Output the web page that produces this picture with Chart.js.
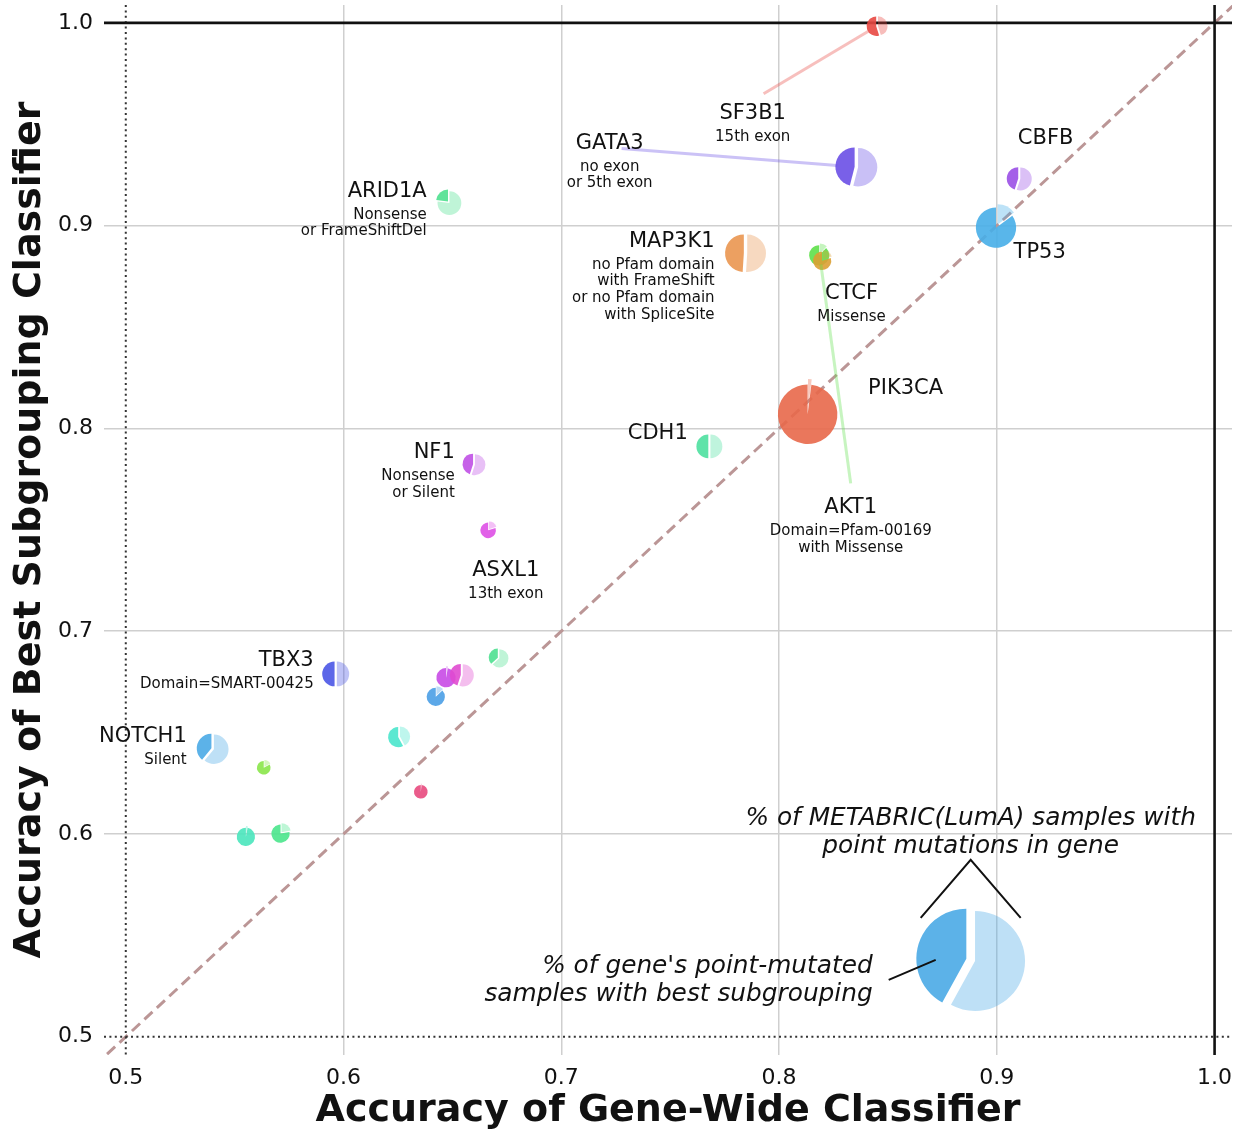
<!DOCTYPE html>
<html lang="en">

<head>
  <meta charset="UTF-8">
  <meta name="viewport" content="width=device-width, initial-scale=1.0">
  <script src="https://cdn.jsdelivr.net/npm/chart.js"></script>
  <title>Gene-wide vs best subgrouping classifier</title>
  <style>
    html, body { margin: 0; padding: 0; background: #fff; }
  </style>
</head>

<body>
  <canvas id="grafico" width="1240" height="1130"></canvas>
  <script>
    // dados
    const genes = ['SF3B1', 'GATA3', 'CBFB', 'TP53', 'ARID1A', 'MAP3K1', 'AKT1', 'CTCF', 'PIK3CA', 'CDH1',
      'NF1', 'ASXL1', 'TBX3', 'NOTCH1', 'g15', 'g16', 'g17', 'g18', 'g19', 'g20', 'g21', 'g22', 'g23'];
    const geneWideAcc = [0.845, 0.8355, 0.9103, 0.900, 0.6483, 0.7846, 0.8186, 0.8200, 0.8132, 0.768,
      0.6599, 0.6666, 0.5964, 0.5399, 0.6712, 0.6471, 0.6543, 0.6425, 0.6255, 0.5635, 0.6355, 0.5552, 0.5713];
    const subgroupAcc = [0.9984, 0.9289, 0.9231, 0.8998, 0.9115, 0.8864, 0.8858, 0.8830, 0.8083, 0.7911,
      0.7822, 0.7500, 0.6789, 0.6420, 0.6868, 0.6775, 0.6783, 0.6680, 0.6479, 0.6329, 0.6211, 0.5990, 0.6005];
    // % de amostras METABRIC(LumA) com mutacao pontual no gene
    const mutatedPct = [4.8, 19.1, 6.8, 21.0, 7.3, 18.2, 5.3, 4.3, 45.8, 7.3,
      5.7, 3.1, 7.9, 11.1, 4.3, 4.8, 6.3, 4.3, 5.3, 2.4, 2.4, 4.3, 4.3];
    // fracao das amostras mutadas com o melhor subgrupo
    const bestSubFrac = [0.55, 0.46, 0.45, 0.85, 0.23, 0.49, 0.88, 0.80, 0.98, 0.50,
      0.45, 0.80, 0.50, 0.39, 0.37, 0.97, 0.45, 0.87, 0.58, 0.83, 0.98, 0.97, 0.78];
    const geneColors = ['#e84842', '#6a4fe6', '#9a4fe6', '#47aee8', '#4ee08f', '#ea9650', '#5ee04a', '#dba034',
      '#e8684a', '#4ee0a0', '#c050e6', '#de50e6', '#4a55e6', '#4aaae6', '#4ee090', '#c84ae6', '#e04ad0',
      '#4a9ee6', '#4ae6cc', '#8ae64a', '#e84a7e', '#4ae6bc', '#4ae68c'];
    const xTicks = [0.5, 0.6, 0.7, 0.8, 0.9, 1.0];
    const yTicks = [0.5, 0.6, 0.7, 0.8, 0.9, 1.0];

    // rotulos dos genes (posicao em coordenadas dos dados)
    const notes = [
      { i: 0, x: 0.7879, y: 0.9562, align: 'center', sub: ['15th exon'], from: [0.7929, 0.965] },
      { i: 1, x: 0.7222, y: 0.9414, align: 'center', sub: ['no exon', 'or 5th exon'], from: [0.7277, 0.938] },
      { i: 2, x: 0.9224, y: 0.9438, align: 'center', sub: [] },
      { i: 3, x: 0.9197, y: 0.8877, align: 'center', sub: [] },
      { i: 4, x: 0.6382, y: 0.9177, align: 'right', sub: ['Nonsense', 'or FrameShiftDel'] },
      { i: 5, x: 0.7704, y: 0.8931, align: 'right', sub: ['no Pfam domain', 'with FrameShift', 'or no Pfam domain', 'with SpliceSite'] },
      { i: 6, x: 0.8329, y: 0.7616, align: 'center', sub: ['Domain=Pfam-00169', 'with Missense'], from: [0.8329, 0.7729] },
      { i: 7, x: 0.8333, y: 0.8670, align: 'center', sub: ['Missense'] },
      { i: 8, x: 0.8581, y: 0.8202, align: 'center', sub: [] },
      { i: 9, x: 0.7443, y: 0.7980, align: 'center', sub: [] },
      { i: 10, x: 0.6511, y: 0.7887, align: 'right', sub: ['Nonsense', 'or Silent'] },
      { i: 11, x: 0.6745, y: 0.7305, align: 'center', sub: ['13th exon'] },
      { i: 12, x: 0.5863, y: 0.6862, align: 'right', sub: ['Domain=SMART-00425'] },
      { i: 13, x: 0.5280, y: 0.6488, align: 'right', sub: ['Silent'] }
    ];

    // legenda do tamanho / fatia
    const keyPie = { x: 0.888, y: 0.5379, frac: 0.42, color: '#4aaae6', r: 50 };

    const FONT = "'DejaVu Sans', 'Liberation Sans', sans-serif";
    const sizeK = 4.4;

    const rgba = (hex, a) => {
      const n = parseInt(hex.slice(1), 16);
      return `rgba(${(n >> 16) & 255},${(n >> 8) & 255},${n & 255},${a})`;
    };

    function drawPie(ctx, cx, cy, r, frac, color) {
      const top = -Math.PI / 2;
      const e = 0.09 * r;
      const lm = top + Math.PI * (1 - frac);
      const dm = top - Math.PI * frac;
      // fatia clara (resto)
      let px = cx + e * Math.cos(lm), py = cy + e * Math.sin(lm);
      ctx.fillStyle = rgba(color, 0.36);
      ctx.beginPath();
      ctx.moveTo(px, py);
      ctx.arc(px, py, r, top, top + 2 * Math.PI * (1 - frac), false);
      ctx.closePath();
      ctx.fill();
      // fatia escura (melhor subgrupo), sentido anti-horario a partir do topo
      px = cx + e * Math.cos(dm); py = cy + e * Math.sin(dm);
      ctx.fillStyle = rgba(color, 0.9);
      ctx.beginPath();
      ctx.moveTo(px, py);
      ctx.arc(px, py, r, top - 2 * Math.PI * frac, top, false);
      ctx.closePath();
      ctx.fill();
    }

    const refLines = {
      id: 'refLines',
      beforeDatasetsDraw(chart) {
        const { ctx, chartArea: a, scales: { x, y } } = chart;
        ctx.save();
        ctx.beginPath();
        ctx.rect(a.left, a.top, a.right - a.left, a.bottom - a.top);
        ctx.clip();
        // diagonal y = x
        ctx.strokeStyle = '#bb9696';
        ctx.lineWidth = 3;
        ctx.setLineDash([11, 6]);
        ctx.beginPath();
        ctx.moveTo(x.getPixelForValue(0.4), y.getPixelForValue(0.4));
        ctx.lineTo(x.getPixelForValue(1.1), y.getPixelForValue(1.1));
        ctx.stroke();
        // linhas pontilhadas em 0.5
        ctx.strokeStyle = '#333';
        ctx.lineWidth = 2;
        ctx.setLineDash([2, 3.4]);
        ctx.beginPath();
        ctx.moveTo(x.getPixelForValue(0.5), a.top);
        ctx.lineTo(x.getPixelForValue(0.5), a.bottom);
        ctx.moveTo(a.left, y.getPixelForValue(0.5));
        ctx.lineTo(a.right, y.getPixelForValue(0.5));
        ctx.stroke();
        // linhas solidas em 1.0
        ctx.setLineDash([]);
        ctx.strokeStyle = '#111';
        ctx.lineWidth = 2.6;
        ctx.beginPath();
        ctx.moveTo(x.getPixelForValue(1.0), a.top);
        ctx.lineTo(x.getPixelForValue(1.0), a.bottom);
        ctx.moveTo(a.left, y.getPixelForValue(1.0));
        ctx.lineTo(a.right, y.getPixelForValue(1.0));
        ctx.stroke();
        ctx.restore();
      }
    };

    const pies = {
      id: 'pies',
      afterDatasetsDraw(chart) {
        const { ctx, scales: { x, y } } = chart;
        const meta = chart.getDatasetMeta(0);
        ctx.save();
        meta.data.forEach((pt, i) => {
          drawPie(ctx, pt.x, pt.y, sizeK * Math.sqrt(mutatedPct[i]), bestSubFrac[i], geneColors[i]);
        });

        // linhas ligando rotulo ao ponto
        notes.forEach(n => {
          if (!n.from) return;
          const pt = meta.data[n.i];
          const r = sizeK * Math.sqrt(mutatedPct[n.i]);
          const sx = x.getPixelForValue(n.from[0]), sy = y.getPixelForValue(n.from[1]);
          const d = Math.hypot(pt.x - sx, pt.y - sy);
          const ex = pt.x - (pt.x - sx) * r / d, ey = pt.y - (pt.y - sy) * r / d;
          ctx.strokeStyle = rgba(geneColors[n.i], 0.35);
          ctx.lineWidth = 3;
          ctx.beginPath();
          ctx.moveTo(sx, sy);
          ctx.lineTo(ex, ey);
          ctx.stroke();
        });

        // textos
        ctx.fillStyle = '#111';
        ctx.textBaseline = 'middle';
        notes.forEach(n => {
          const px = x.getPixelForValue(n.x), py = y.getPixelForValue(n.y) + 1.5;
          ctx.textAlign = n.align;
          ctx.font = `21px ${FONT}`;
          ctx.fillText(genes[n.i], px, py);
          ctx.font = `15px ${FONT}`;
          n.sub.forEach((s, k) => ctx.fillText(s, px, py + 23.5 + k * 16.7));
        });

        // legenda
        const kx = x.getPixelForValue(keyPie.x), ky = y.getPixelForValue(keyPie.y);
        drawPie(ctx, kx, ky, keyPie.r, keyPie.frac, keyPie.color);
        ctx.strokeStyle = '#111';
        ctx.lineWidth = 2;
        ctx.beginPath();
        ctx.moveTo(kx - 50, ky - 42);
        ctx.lineTo(kx, ky - 100);
        ctx.lineTo(kx + 50, ky - 42);
        ctx.moveTo(kx - 82, ky + 20);
        ctx.lineTo(kx - 35, ky);
        ctx.stroke();
        ctx.fillStyle = '#111';
        ctx.font = `italic 24.8px ${FONT}`;
        ctx.textAlign = 'center';
        ctx.fillText('% of METABRIC(LumA) samples with', kx, ky - 141);
        ctx.fillText('point mutations in gene', kx, ky - 113);
        ctx.textAlign = 'right';
        ctx.fillText("% of gene's point-mutated", kx - 98, ky + 7);
        ctx.fillText('samples with best subgrouping', kx - 98, ky + 35);
        ctx.restore();
      }
    };

    const gridColor = c => (c.tick && (Math.abs(c.tick.value - 0.5) < 1e-6 || Math.abs(c.tick.value - 1) < 1e-6))
      ? 'rgba(0,0,0,0)' : '#cfcfcf';

    Chart.defaults.font.family = FONT;
    Chart.defaults.color = '#111';

    const ctx = document.getElementById('grafico');
    const grafico = new Chart(ctx, {
      type: 'scatter',
      data: {
        datasets: [{
          label: 'genes',
          data: genes.map((g, i) => ({ x: geneWideAcc[i], y: subgroupAcc[i] })),
          pointRadius: 0,
          pointHoverRadius: 0
        }]
      },
      options: {
        responsive: false,
        animation: false,
        layout: { padding: { top: 5, right: 8, left: 0, bottom: 0 } },
        plugins: { legend: { display: false }, tooltip: { enabled: false } },
        scales: {
          x: {
            type: 'linear',
            min: 0.49, max: 1.008,
            afterBuildTicks: s => { s.ticks = xTicks.map(v => ({ value: v })); },
            afterFit: s => { s.height = 75; s.paddingLeft = 0; s.paddingRight = 0; },
            grid: { color: gridColor, lineWidth: 1.5, drawTicks: false },
            border: { display: false },
            ticks: { padding: 10, maxRotation: 0, font: { size: 22 }, callback: v => v.toFixed(1) },
            title: {
              display: true, text: 'Accuracy of Gene-Wide Classifier',
              font: { size: 38, weight: 'bold', lineHeight: 1 }, padding: { top: 0, bottom: 0 }
            }
          },
          y: {
            type: 'linear',
            min: 0.491, max: 1.0088,
            afterBuildTicks: s => { s.ticks = yTicks.map(v => ({ value: v })); },
            afterFit: s => { s.width = 104; s.paddingTop = 0; s.paddingBottom = 0; },
            grid: { color: gridColor, lineWidth: 1.5, drawTicks: false },
            border: { display: false },
            ticks: { padding: 11, font: { size: 22 }, callback: v => v.toFixed(1) },
            title: {
              display: true, text: 'Accuracy of Best Subgrouping Classifier',
              font: { size: 38, weight: 'bold', lineHeight: 1 }, padding: { top: 11, bottom: 0 }
            }
          }
        }
      },
      plugins: [refLines, pies]
    });
  </script>

</body>

</html>
